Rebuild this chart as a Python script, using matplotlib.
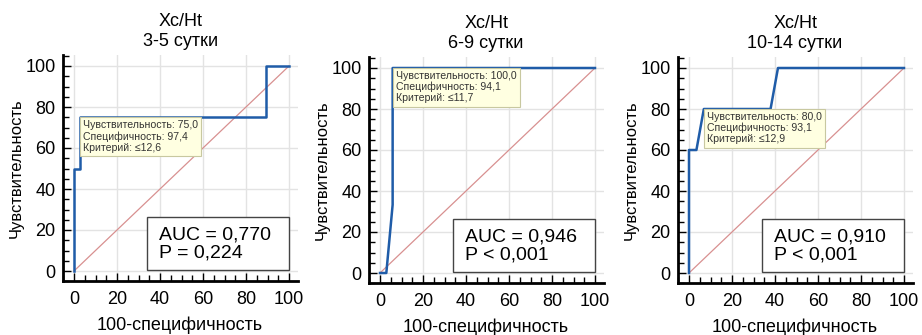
import matplotlib
matplotlib.use("Agg")
import matplotlib.pyplot as plt
from matplotlib.ticker import MultipleLocator

plt.rcParams['font.family'] = ['Liberation Sans', 'DejaVu Sans']

# ROC data (100-specificity, sensitivity)
titles = ["Xc/Ht\n3-5 сутки", "Xc/Ht\n6-9 сутки", "Xc/Ht\n10-14 сутки"]
roc_x = [
    [0, 0, 2.63, 2.63, 89.47, 89.47, 100],
    [0, 2.94, 5.88, 5.88, 100],
    [0, 0, 3.45, 6.90, 37.93, 41.38, 100],
]
roc_y = [
    [0, 50, 50, 75, 75, 100, 100],
    [0, 0, 33.3, 100, 100],
    [0, 60, 60, 80, 80, 100, 100],
]
# operating points (100-spec, sens) with tooltip text
cut_x = [2.63, 5.88, 6.90]
cut_y = [75, 100, 80]
cut_text = [
    "Чувствительность: 75,0\nСпецифичность: 97,4\nКритерий: ≤12,6",
    "Чувствительность: 100,0\nСпецифичность: 94,1\nКритерий: ≤11,7",
    "Чувствительность: 80,0\nСпецифичность: 93,1\nКритерий: ≤12,9",
]
auc_text = ["AUC = 0,770\nP = 0,224", "AUC = 0,946\nP < 0,001", "AUC = 0,910\nP < 0,001"]

W, H = 922, 335
fig = plt.figure(figsize=(W / 100, H / 100), dpi=100)

# pixel positions of data (0,0) and (100,100) in each panel
origins = [(74, 271, 289, 66), (380, 273, 595, 68), (689, 273, 904, 68)]
xmin, xmax = -5.3, 104
ymin, ymax = -5, 105.5

for i in range(3):
    x0, y0, x1, y1 = origins[i]
    sx = (x1 - x0) / 100.0
    sy = (y0 - y1) / 100.0
    left = x0 + xmin * sx
    right = x0 + xmax * sx
    bottom = y0 - ymin * sy
    top = y0 - ymax * sy
    ax = fig.add_axes([left / W, (H - bottom) / H, (right - left) / W, (bottom - top) / H])
    ax.set_xlim(xmin, xmax)
    ax.set_ylim(ymin, ymax)

    ax.grid(True, color='#e3e3e3', lw=1)
    ax.set_axisbelow(True)
    ax.plot([0, 100], [0, 100], color='#d89090', lw=0.9, zorder=2)
    ax.plot(roc_x[i], roc_y[i], color='#1f5ca8', lw=1.8, zorder=3)

    ax.annotate(cut_text[i], xy=(cut_x[i], cut_y[i]), xytext=(2.3, -2.1),
                textcoords='offset points', ha='left', va='top', fontsize=7.6,
                color='#333333', linespacing=1.12, zorder=5,
                bbox=dict(boxstyle='square,pad=0.3', fc='#ffffe1', ec='#c8c8a0', lw=0.8))

    ax.text(39.5, 13.2, auc_text[i], fontsize=14, ha='left', va='center',
            linespacing=1.1, zorder=4)
    ax.add_patch(plt.Rectangle((34, 0.5), 66, 26, fc='white', ec='#444444', lw=1, zorder=3.5))

    for s in ['top', 'right']:
        ax.spines[s].set_visible(False)
    for s in ['left', 'bottom']:
        ax.spines[s].set_linewidth(2)

    ax.xaxis.set_major_locator(MultipleLocator(20))
    ax.yaxis.set_major_locator(MultipleLocator(20))
    ax.xaxis.set_minor_locator(MultipleLocator(5))
    ax.yaxis.set_minor_locator(MultipleLocator(5))
    ax.tick_params(which='major', direction='in', length=6, width=1, labelsize=13, pad=5)
    ax.tick_params(which='minor', direction='in', length=4, width=1)
    ax.tick_params(axis='x', which='major', pad=7)

    ax.set_title(titles[i], fontsize=13, linespacing=1.25, pad=6)
    ax.set_xlabel("100-специфичность", fontsize=13, labelpad=6)
    ax.set_ylabel("Чувствительность", fontsize=12, labelpad=1)

fig.savefig("out.png", dpi=100)
